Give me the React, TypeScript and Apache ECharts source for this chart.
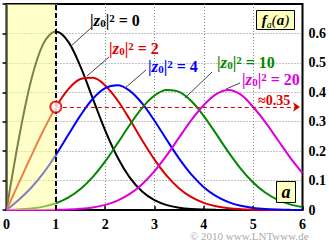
import React, { useEffect, useRef } from "react";
import * as echarts from "echarts";

// amplitude a (x axis)
const aValues = [0, 0.25, 0.5, 0.75, 1, 1.25, 1.5, 1.75, 2, 2.25, 2.5, 2.75, 3, 3.25, 3.5, 3.75, 4, 4.25, 4.5, 4.75, 5, 5.25, 5.5, 5.75, 6];
// f_a(a) for |z0|^2 = 0, 2, 4, 10, 20
const fZ0 = [0, 0.2423, 0.4412, 0.5661, 0.6065, 0.5723, 0.487, 0.3785, 0.2707, 0.1791, 0.1098, 0.0627, 0.0333, 0.0165, 0.0077, 0.0033, 0.0013, 0.0005, 0.0002, 0.0001, 0, 0, 0, 0, 0];
const fZ2 = [0, 0.0919, 0.1833, 0.2711, 0.3494, 0.41, 0.445, 0.4493, 0.4234, 0.3729, 0.3072, 0.2369, 0.1711, 0.1157, 0.0733, 0.0436, 0.0243, 0.0127, 0.0062, 0.0029, 0.0012, 0.0005, 0.0002, 0.0001, 0];
const fZ4 = [0, 0.0349, 0.0756, 0.1262, 0.1871, 0.2548, 0.3217, 0.3779, 0.414, 0.4235, 0.4049, 0.3622, 0.3033, 0.2378, 0.1747, 0.1203, 0.0776, 0.047, 0.0267, 0.0142, 0.0071, 0.0033, 0.0015, 0.0006, 0.0002];
const fZ10 = [0, 0.0019, 0.0051, 0.0114, 0.0228, 0.0418, 0.0711, 0.1123, 0.165, 0.2262, 0.2897, 0.347, 0.3889, 0.4081, 0.4012, 0.3696, 0.3192, 0.2585, 0.1963, 0.1399, 0.0935, 0.0586, 0.0345, 0.0191, 0.0099];
const fZ20 = [0, 0, 0.0001, 0.0002, 0.0008, 0.0018, 0.0042, 0.0088, 0.0173, 0.0319, 0.0546, 0.0878, 0.1321, 0.1863, 0.2466, 0.3062, 0.3568, 0.394, 0.408, 0.392, 0.3499, 0.2976, 0.2377, 0.1783, 0.1257];

const seriesNames = ["|z0|² = 0", "|z0|² = 2", "|z0|² = 4", "|z0|² = 10", "|z0|² = 20"];
const seriesValues = [fZ0, fZ2, fZ4, fZ10, fZ20];
const seriesColors = ["#000000", "#dd0000", "#0000ff", "#008800", "#dd00dd"];
const labelValues = ["0", "2", "4", "10", "20"];

// highlighted point and shaded range
const markA = 1;
const markF = 0.35;
const shadeRange = [0, 1];
const arrowEnd = 5.95;

const SERIF = "'Liberation Serif', 'DejaVu Serif', serif";

function zLabel(val: string, color: string, x: number, y: number) {
  return {
    type: "text",
    x,
    y,
    z: 100,
    style: {
      text: `{n||}{z|z}{s|0}{n||}{p|2}{n| = ${val}}`,
      fill: color,
      verticalAlign: "middle",
      rich: {
        n: { fontFamily: SERIF, fontSize: 16, fontWeight: "bold", fill: color, lineHeight: 16 },
        z: { fontFamily: SERIF, fontSize: 17, fontWeight: "bold", fontStyle: "italic", fill: color, lineHeight: 16 },
        s: { fontFamily: SERIF, fontSize: 11, fontWeight: "bold", fill: color, verticalAlign: "bottom", lineHeight: 16, padding: [4, 0, 0, 0] },
        p: { fontFamily: SERIF, fontSize: 11, fontWeight: "bold", fill: color, verticalAlign: "top", lineHeight: 16, padding: [0, 0, 3, 0] },
      },
    },
  };
}

function leader(x1: number, y1: number, x2: number, y2: number) {
  return {
    type: "line",
    z: 100,
    shape: { x1, y1, x2, y2 },
    style: { stroke: "#444444", lineWidth: 1 },
  };
}

export default function App() {
  const ref = useRef<HTMLDivElement>(null);
  useEffect(() => {
    document.body.style.margin = "0";
    const chart = echarts.init(ref.current!, null, { renderer: "svg" });
    const lineSeries = seriesValues.map((vals, k) => ({
      name: seriesNames[k],
      type: "line",
      data: aValues.map((a, i) => [a, vals[i]]),
      smooth: 0.35,
      showSymbol: false,
      lineStyle: { color: seriesColors[k], width: 2 },
      z: 2,
    }));
    chart.setOption({
      animation: false,
      backgroundColor: "#ffffff",
      grid: {
        left: 3,
        right: 26,
        top: 4,
        bottom: 38,
        show: true,
        borderColor: "#000",
        borderWidth: 2,
        backgroundColor: "#ffffff",
      },
      xAxis: {
        type: "value",
        min: 0,
        max: 6,
        interval: 1,
        axisLine: { show: true, lineStyle: { color: "#000", width: 2 } },
        axisTick: { show: true, inside: true, length: 4, lineStyle: { color: "#000", width: 1.5 } },
        axisLabel: { color: "#000", fontFamily: SERIF, fontWeight: "bold", fontSize: 14, margin: 7 },
        splitLine: { show: true, showMinLine: false, showMaxLine: false, lineStyle: { color: "#888", type: [1, 2], width: 1 } },
      },
      yAxis: {
        type: "value",
        position: "right",
        min: 0,
        max: 0.7,
        interval: 0.1,
        axisLine: { show: true, lineStyle: { color: "#000", width: 2 } },
        axisTick: { show: true, inside: true, length: 4, lineStyle: { color: "#000", width: 1.5 } },
        axisLabel: {
          color: "#000",
          fontFamily: SERIF,
          fontWeight: "bold",
          fontSize: 14,
          margin: 6,
          formatter: (v: number) => (v > 0.65 ? "" : v === 0 ? "0" : v.toFixed(1)),
        },
        splitLine: { show: true, showMinLine: false, showMaxLine: false, lineStyle: { color: "#888", type: [1, 2], width: 1 } },
      },
      series: [
        ...lineSeries,
        {
          type: "line",
          data: [],
          z: 3,
          silent: true,
          markArea: {
            silent: true,
            z: 4,
            itemStyle: { color: "rgba(255,255,150,0.5)" },
            data: [[{ xAxis: shadeRange[0] }, { xAxis: shadeRange[1] }]],
          },
        },
        {
          type: "scatter",
          data: [[markA, markF]],
          z: 6,
          symbol: "circle",
          symbolSize: 11,
          itemStyle: { color: "#ffffff", borderColor: "#dd0000", borderWidth: 2 },
          markLine: {
            silent: true,
            z: 5,
            symbol: ["none", "none"],
            label: { show: false },
            data: [
              [
                { coord: [markA, 0], lineStyle: { color: "#000", width: 2, type: [5, 3] } },
                { coord: [markA, 0.7] },
              ],
              [
                { coord: [markA, markF], symbol: "none", lineStyle: { color: "#dd0000", width: 1.2, type: [4, 3] } },
                { coord: [arrowEnd, markF], symbol: "arrow", symbolSize: 7 },
              ],
            ],
          },
        },
      ],
      graphic: [
        leader(70, 47, 92, 27),
        leader(87, 76, 109, 57),
        leader(125, 88, 146, 70),
        leader(185, 98, 212, 72),
        leader(226, 89, 240, 83),
        zLabel(labelValues[0], seriesColors[0], 90, 20),
        zLabel(labelValues[1], seriesColors[1], 109, 48),
        zLabel(labelValues[2], seriesColors[2], 148, 66),
        zLabel(labelValues[3], seriesColors[3], 217, 62),
        zLabel(labelValues[4], seriesColors[4], 242, 79),
        {
          type: "text",
          x: 258,
          y: 100,
          z: 100,
          style: { text: "≈0.35", fill: "#dd0000", font: `bold 14px ${SERIF}`, verticalAlign: "middle" },
        },
        {
          type: "rect",
          z: 100,
          shape: { x: 256.5, y: 10.5, width: 38, height: 19 },
          style: { fill: "#ffffc0", stroke: "#000", lineWidth: 1 },
        },
        {
          type: "text",
          x: 275.5,
          y: 20,
          z: 101,
          style: {
            text: "{f|f}{s|a}{p|(}{f|a}{p|)}",
            align: "center",
            verticalAlign: "middle",
            rich: {
              f: { fontFamily: SERIF, fontSize: 15, fontWeight: "bold", fontStyle: "italic", fill: "#000", lineHeight: 18 },
              s: { fontFamily: SERIF, fontSize: 10, fontStyle: "italic", fill: "#000", verticalAlign: "bottom", lineHeight: 18 },
              p: { fontFamily: SERIF, fontSize: 15, fontStyle: "italic", fill: "#000", lineHeight: 18 },
            },
          },
        },
        {
          type: "rect",
          z: 100,
          shape: { x: 276.5, y: 181.5, width: 19, height: 21 },
          style: { fill: "#ffffc0", stroke: "#000", lineWidth: 1 },
        },
        {
          type: "text",
          x: 286,
          y: 192,
          z: 101,
          style: {
            text: "a",
            align: "center",
            verticalAlign: "middle",
            font: `italic bold 18px ${SERIF}`,
            fill: "#000",
          },
        },
        {
          type: "text",
          x: 190,
          y: 236,
          z: 100,
          style: {
            text: "© 2010 www.LNTwww.de",
            fill: "#aaaaaa",
            font: `11px ${SERIF}`,
            verticalAlign: "middle",
          },
        },
      ],
    });
    return () => chart.dispose();
  }, []);
  return <div ref={ref} style={{ width: 329, height: 248 }} />;
}
